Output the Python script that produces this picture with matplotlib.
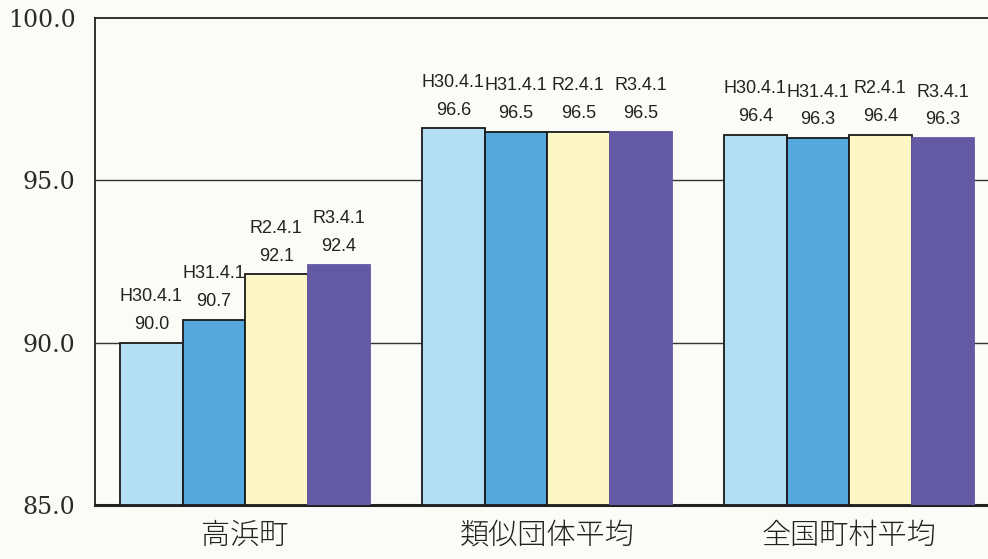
import numpy as np
import matplotlib.pyplot as plt

groups = ['高浜町', '類似団体平均', '全国町村平均']
dates = ['H30.4.1', 'H31.4.1', 'R2.4.1', 'R3.4.1']
values = [
    [90.0, 90.7, 92.1, 92.4],
    [96.6, 96.5, 96.5, 96.5],
    [96.4, 96.3, 96.4, 96.3],
]
colors = ['#b3def4', '#55a8dc', '#fcf7c4', '#6359a5']
edges = ['#1a1a1a', '#1a1a1a', '#1a1a1a', '#6359a5']

W, H = 988, 559
fig = plt.figure(figsize=(W / 100, H / 100), dpi=100)
fig.patch.set_facecolor('#fbfbf7')
ax = fig.add_axes([95 / W, (H - 505) / H, (W - 95) / W, 487 / H])
ax.set_facecolor('#fbfbf7')

x = np.arange(len(groups))
bw = 0.207
for i, d in enumerate(dates):
    vals = [v[i] for v in values]
    pos = x + (i - 1.5) * bw
    ax.bar(pos, np.array(vals) - 85, bottom=85, width=bw, color=colors[i],
           edgecolor=edges[i], linewidth=1.3, zorder=3)
    for p, v in zip(pos, vals):
        ax.annotate(f'{v:.1f}', (p, v), xytext=(0, 7), textcoords='offset points',
                    ha='center', va='bottom', fontsize=13, family='Liberation Sans',
                    color='#222222')
        ax.annotate(d, (p, v), xytext=(0, 27), textcoords='offset points',
                    ha='center', va='bottom', fontsize=13, family='Liberation Sans',
                    color='#222222')

ax.set_ylim(85, 100)
ax.set_xlim(-0.497, 2.46)
ax.set_yticks([85, 90, 95, 100])
ax.set_yticklabels(['85.0', '90.0', '95.0', '100.0'], family='DejaVu Serif',
                   fontsize=17, color='#2a2a2a')
ax.tick_params(axis='y', length=0, pad=14)
ax.set_xticks(x)
ax.set_xticklabels(groups, family=['Noto Sans CJK JP', 'DejaVu Sans'],
                   fontsize=21, fontweight='light', color='#222222')
ax.tick_params(axis='x', length=0, pad=11)

for yv in [90, 95]:
    ax.axhline(yv, color='#333333', linewidth=1.0, zorder=1)

ax.spines['right'].set_visible(False)
ax.spines['left'].set_linewidth(1.3)
ax.spines['top'].set_linewidth(1.3)
ax.spines['bottom'].set_linewidth(2.2)
for s in ax.spines.values():
    s.set_color('#222222')

fig.savefig('out.png', dpi=100, facecolor=fig.get_facecolor())
